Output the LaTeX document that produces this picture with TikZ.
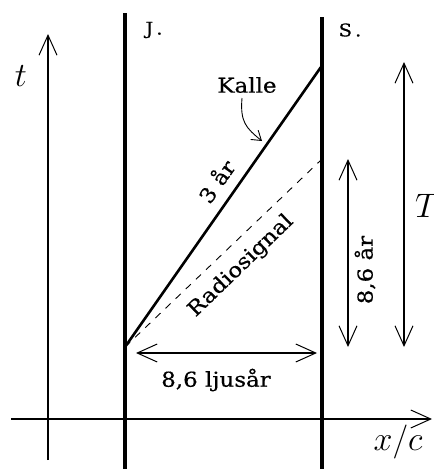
\documentclass[tikz,border=0pt]{standalone}
\usepackage{fix-cm}
\usepackage{fontspec}
\setmainfont[FakeStretch=1.12,FakeBold=0.5]{DejaVu Serif}
\usetikzlibrary{arrows.meta}
\begin{document}
\begin{tikzpicture}[x=1pt,y=-1pt,
  bigbarb/.tip={Straight Barb[length=20pt,width=18pt,line width=1pt]},
  smallbarb/.tip={Straight Barb[length=9pt,width=12pt,line width=0.9pt]},
  axis/.style={line width=1.1pt},
  world/.style={line width=3.2pt},
  kalleline/.style={line width=2.6pt},
  signal/.style={line width=0.9pt, dash pattern=on 7pt off 7pt},
  dbl/.style={line width=1.1pt, bigbarb-bigbarb},
  lbl/.style={inner sep=0pt, font=\fontsize{20.5}{22}\selectfont},
  smalllbl/.style={inner sep=0pt, font=\fontsize{17.5}{19}\selectfont},
  mathlbl/.style={inner sep=0pt, font=\fontsize{34}{36}\selectfont}
]
\useasboundingbox (0,0) rectangle (434,469);
% coordinates
\coordinate (tb) at (48,460);
\coordinate (tt) at (48,34);
\coordinate (xl) at (11,419);
\coordinate (xr) at (432,419);
\coordinate (jt) at (125,13);
\coordinate (jb) at (125,472);
\coordinate (st) at (322,17);
\coordinate (sb) at (322,472);
\coordinate (start) at (125,347);
\coordinate (arrive) at (321,67);
\coordinate (radio) at (321,160);
\coordinate (wl) at (136,353);
\coordinate (wr) at (317,353);
\coordinate (ya) at (348,159);
\coordinate (yb) at (348,347);
\coordinate (Ta) at (404,62);
\coordinate (Tb) at (404,347);
\coordinate (ktip) at (262,141);
% axes
\draw[axis,-bigbarb] (tb) -- (tt);
\draw[axis,-bigbarb] (xl) -- (xr);
% world lines
\draw[world] (jt) -- (jb);
\draw[world] (st) -- (sb);
\draw[kalleline] (start) -- (arrive);
\draw[signal] (start) -- (radio);
% double arrows
\draw[dbl] (wl) -- (wr);
\draw[dbl] (ya) -- (yb);
\draw[dbl] (Ta) -- (Tb);
% labels
\node[mathlbl] (t) at (21,76) {$t$};
\node[mathlbl] (xc) at (398,442) {$x/c$};
\node[mathlbl, anchor=west] (T) at (415,206) {$T$};
\node[smalllbl] (J) at (154,30) {J\kern3pt.};
\node[smalllbl] (S) at (350,30) {S\kern3pt.};
\node[lbl] (kalle) at (247,85) {Kalle};
\draw[line width=0.9pt,-smallbarb] (242,98) .. controls (240,122) and (246,128) .. (ktip);
\node[lbl, rotate=55] (tre) at (216,181) {3 år};
\node[lbl, rotate=44] (rs) at (241,266) {Radiosignal};
\node[lbl, rotate=90] (yr) at (365,270) {8,6 år};
\node[lbl] (ljus) at (216,380) {8,6 ljusår};
\end{tikzpicture}
\end{document}
